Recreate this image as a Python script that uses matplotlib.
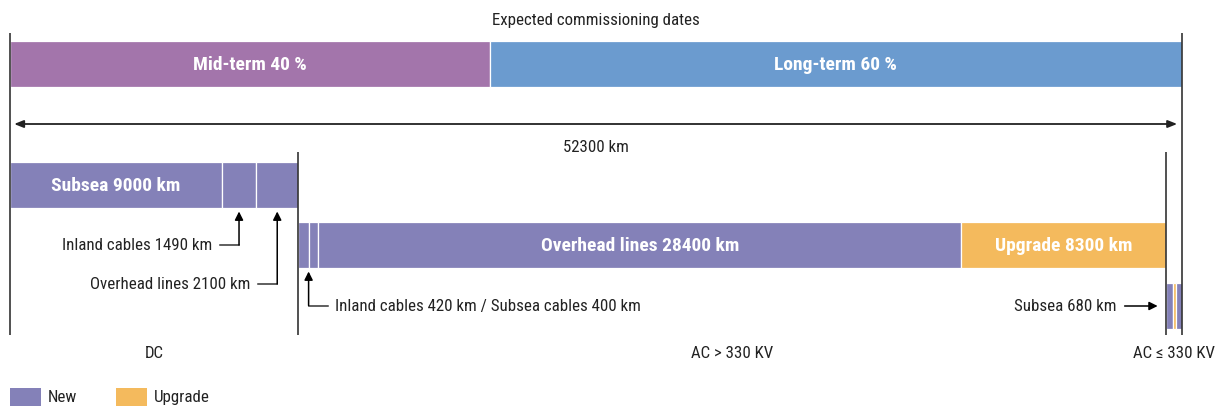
import matplotlib
matplotlib.use("Agg")
import matplotlib.pyplot as plt
from matplotlib.patches import Rectangle

plt.rcParams['font.family'] = ['Roboto Condensed', 'Archivo Narrow', 'Barlow Condensed', 'DejaVu Sans']

# data (km, drawn lengths)
total_km = 52300
periods = ['Mid-term', 'Long-term']
period_pct = [40, 60]
period_km = [21400, 30900]

dc_labels = ['Subsea 9000 km', 'Inland cables 1490 km', 'Overhead lines 2100 km']
dc_km = [9450, 1540, 1870]
dc_kind = ['new', 'new', 'new']

ac_hv_labels = ['Inland cables 420 km', 'Subsea cables 400 km', 'Overhead lines 28400 km', 'Upgrade 8300 km']
ac_hv_km = [465, 415, 28720, 9110]
ac_hv_kind = ['new', 'new', 'new', 'upgrade']

ac_lv_km = [310, 170, 250]
ac_lv_kind = ['new', 'upgrade', 'new']

sections = ['DC', 'AC > 330 KV', 'AC ≤ 330 KV']

colors = {'new': '#8481b8', 'upgrade': '#f4ba5d'}
period_colors = ['#a375ab', '#6b9bcf']
line_c = '#333333'

W, H = 1219, 410
fig = plt.figure(figsize=(W / 100, H / 100), dpi=100)
ax = fig.add_axes([0, 0, 1, 1])
s = 1172 / total_km          # px per km
px = lambda p: (p - 10) / s   # pixel x -> km
ax.set_xlim(px(0), px(W))
ax.set_ylim(H, 0)
ax.axis('off')

fs = 12.2
fs_b = 14
bar_h = 46


def draw_stack(lengths, kinds, left, yc, cols=None):
    lefts = []
    for i, L in enumerate(lengths):
        c = cols[i] if cols else colors[kinds[i]]
        ax.barh(yc, L, left=left, height=bar_h, color=c, edgecolor='white', linewidth=0.9)
        lefts.append(left)
        left += L
    return lefts


# commissioning periods
ax.text(total_km / 2, 20, 'Expected commissioning dates', ha='center', va='center', fontsize=fs, color='#222')
pl = draw_stack(period_km, None, 0, 64.7, cols=period_colors)
for name, pct, l, L in zip(periods, period_pct, pl, period_km):
    ax.text(l + L / 2, 64.7, f'{name} {pct} %', ha='center', va='center', fontsize=fs_b,
            fontweight='bold', color='white')

# total arrow
ax.annotate('', xy=(total_km, 125), xytext=(0, 125),
            arrowprops=dict(arrowstyle='<|-|>,head_length=0.55,head_width=0.22', color='#222',
                            lw=1.3, shrinkA=3, shrinkB=3.5))
ax.text(total_km / 2, 148, f'{total_km} km', ha='center', va='center', fontsize=fs, color='#222')

# section bars
dc_start = 0
hv_start = dc_start + sum(dc_km)
lv_start = hv_start + sum(ac_hv_km)
dl = draw_stack(dc_km, dc_kind, dc_start, 185.7)
hl = draw_stack(ac_hv_km, ac_hv_kind, hv_start, 245.8)
ll = draw_stack(ac_lv_km, ac_lv_kind, lv_start, 306.7)

ax.text(dl[0] + dc_km[0] / 2, 185.7, dc_labels[0], ha='center', va='center', fontsize=fs_b,
        fontweight='bold', color='white')
for i in (2, 3):
    ax.text(hl[i] + ac_hv_km[i] / 2, 245.8, ac_hv_labels[i], ha='center', va='center', fontsize=fs_b,
            fontweight='bold', color='white')

# section divider lines
ax.vlines([dc_start, total_km], 34, 336, color=line_c, lw=1.2)
ax.vlines([hv_start, lv_start], 153, 336, color=line_c, lw=1.2)


def callout(x_tip, y_tip, y_text, text):
    ax.plot([x_tip - 19 / s, x_tip], [y_text, y_text], color=line_c, lw=1.1)
    ax.annotate('', xy=(x_tip, y_tip), xytext=(x_tip, y_text),
                arrowprops=dict(arrowstyle='-|>,head_length=0.5,head_width=0.25', color='black',
                                lw=1.1, shrinkA=0, shrinkB=0))
    ax.text(x_tip - 27 / s, y_text, text, ha='right', va='center', fontsize=fs, color='#222')


callout(dl[1] + dc_km[1] / 2, 212.5, 246, dc_labels[1])
callout(dl[2] + dc_km[2] / 2, 212.5, 285, dc_labels[2])

# AC > 330 small segments callout (text to the right)
xt = hl[1]
ax.plot([xt, xt + 19 / s], [306.5, 306.5], color=line_c, lw=1.1)
ax.annotate('', xy=(xt, 272.5), xytext=(xt, 306.5),
            arrowprops=dict(arrowstyle='-|>,head_length=0.5,head_width=0.25', color='black',
                            lw=1.1, shrinkA=0, shrinkB=0))
ax.text(xt + 26 / s, 306.5, f'{ac_hv_labels[0]} / {ac_hv_labels[1]}', ha='left', va='center',
        fontsize=fs, color='#222')

# AC <= 330 callout
ax.annotate('', xy=(lv_start - 8 / s, 307), xytext=(lv_start - 41 / s, 307),
            arrowprops=dict(arrowstyle='-|>,head_length=0.5,head_width=0.25', color='black',
                            lw=1.1, shrinkA=0, shrinkB=0))
ax.text(lv_start - 49 / s, 307, 'Subsea 680 km', ha='right', va='center', fontsize=fs, color='#222')

# section labels
bounds = [dc_start, hv_start, lv_start, total_km]
for i, name in enumerate(sections):
    ax.text((bounds[i] + bounds[i + 1]) / 2, 354, name, ha='center', va='center', fontsize=fs, color='#222')

# legend
for lx, kind, lab in [(10, 'new', 'New'), (116, 'upgrade', 'Upgrade')]:
    ax.add_patch(Rectangle((px(lx), 389), 31 / s, 18, color=colors[kind], lw=0))
    ax.text(px(lx + 38), 398, lab, ha='left', va='center', fontsize=fs, color='#222')

fig.savefig('out.png', dpi=100)
